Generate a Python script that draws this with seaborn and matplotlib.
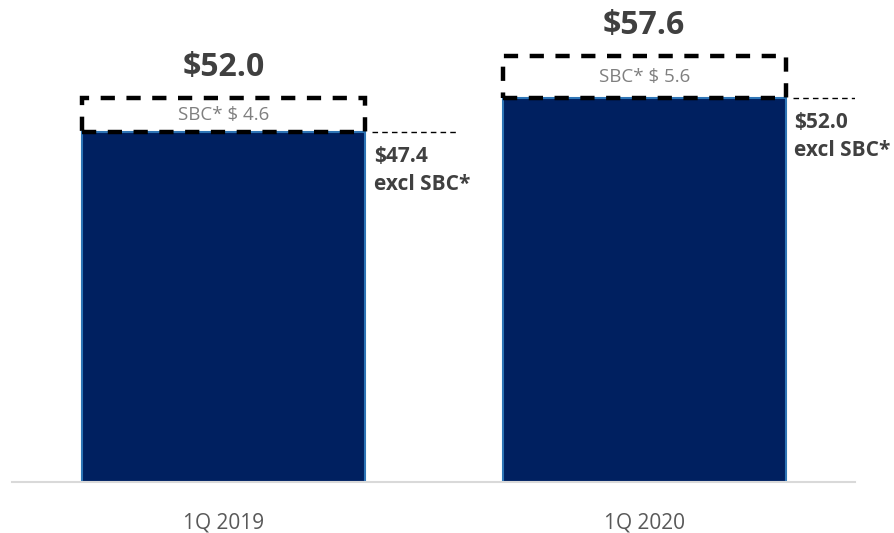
import matplotlib
matplotlib.use("Agg")
import matplotlib.pyplot as plt
import seaborn as sns
import pandas as pd
import numpy as np

categories = ["1Q 2019", "1Q 2020"]
excl_sbc = [47.4, 52.0]
sbc = [4.6, 5.6]
totals = [52.0, 57.6]

sns.set_theme(style="white")
plt.rcParams['font.family'] = ['Open Sans', 'DejaVu Sans']

df = pd.DataFrame({"cat": categories, "val": excl_sbc})

fig = plt.figure(figsize=(8.94, 5.33), dpi=100)
ax = fig.add_axes([12/894, 51/533, 843/894, 482/533])

sns.barplot(data=df, x="cat", y="val", color="#002060", width=0.673,
            edgecolor="#2E75B6", linewidth=1.5, ax=ax, saturation=1)

x = np.arange(len(categories))
ax.bar(x, sbc, bottom=excl_sbc, width=0.673, fill=False, edgecolor="black",
       linewidth=3.2, linestyle=(0, (3.2, 2.6)), zorder=5)

gray = "#595959"
dark = "#404040"
for i in range(len(categories)):
    ax.text(x[i], totals[i] + 1.9, f"${totals[i]:.1f}", ha="center", va="bottom",
            fontsize=23, fontweight="bold", color=dark)
    ax.text(x[i], excl_sbc[i] + sbc[i] / 2, f"SBC* $ {sbc[i]:.1f}", ha="center",
            va="center", fontsize=13.5, color="#7f7f7f")
    ax.plot([x[i] + 0.353, x[i] + 0.56], [excl_sbc[i], excl_sbc[i]], color="black",
            linewidth=1, linestyle=(0, (4, 3)))
    ax.text(x[i] + 0.357, excl_sbc[i] - 1.9, f"${excl_sbc[i]:.1f}\nexcl SBC*", ha="left",
            va="top", fontsize=15, fontweight="bold", color=dark, linespacing=1.45)

ax.set_xlim(-0.503, 1.501)
ax.set_ylim(0, 65.2)
ax.set_xlabel("")
ax.set_ylabel("")
ax.set_yticks([])
ax.tick_params(axis="x", length=0, pad=22, labelsize=15, labelcolor=gray)
for s in ["top", "left", "right"]:
    ax.spines[s].set_visible(False)
ax.spines["bottom"].set_color("#d9d9d9")
ax.spines["bottom"].set_linewidth(1.5)
for t in ax.texts:
    t.set_clip_on(False)

fig.savefig("out.png", dpi=100)
